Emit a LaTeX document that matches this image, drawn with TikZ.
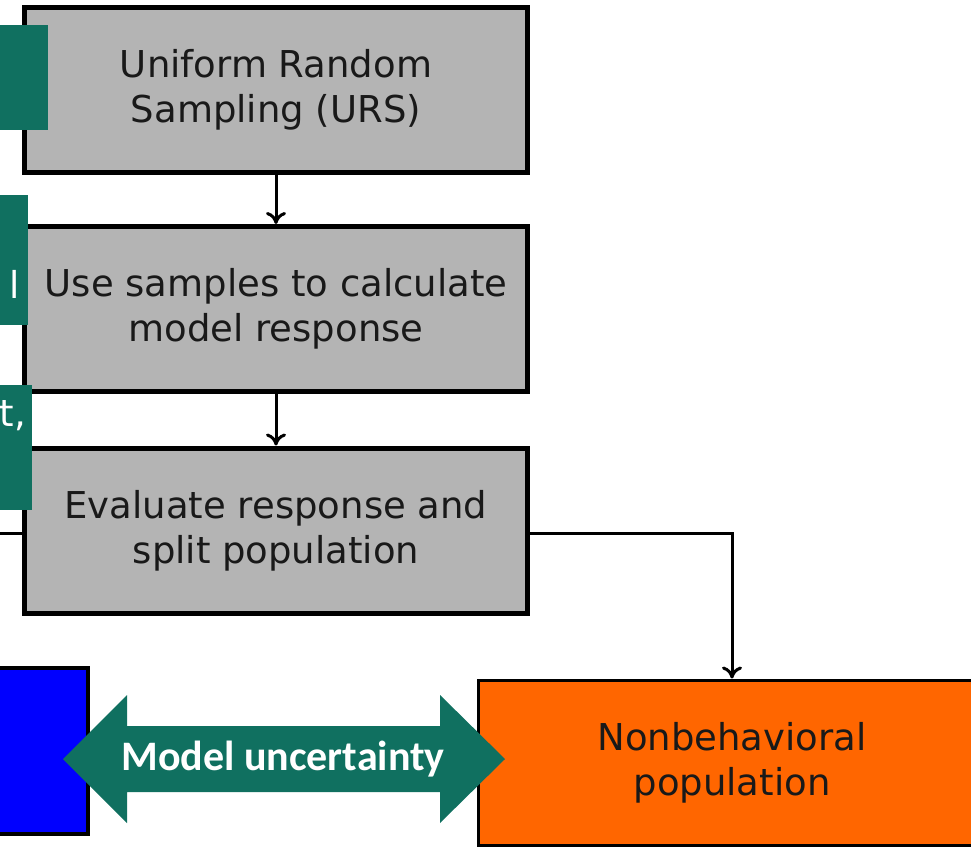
\documentclass[tikz,border=0pt]{standalone}
\usepackage{fontspec}
\setmainfont{DejaVu Sans}
\newfontfamily\calib{Carlito}
\usetikzlibrary{arrows.meta}
\definecolor{teal1}{RGB}{16,112,96}
\definecolor{grayfill}{RGB}{180,180,180}
\definecolor{orng}{RGB}{255,102,0}
\definecolor{txtdark}{RGB}{25,25,25}
\tikzset{
  procbox/.style={draw=black, line width=5pt, fill=grayfill, minimum width=503pt, minimum height=165pt, inner sep=0pt, align=center, text=txtdark, font=\fontsize{37}{45}\selectfont},
  tealbox/.style={fill=teal1, inner sep=0pt, text=white},
  flow/.style={line width=3pt, -{To[length=12pt,width=20pt]}},
  plainline/.style={line width=3pt}
}
\begin{document}
\begin{tikzpicture}[x=1pt,y=-1pt]
\useasboundingbox (0,0) rectangle (971,848);
\begin{scope}
\clip (0,0) rectangle (971,848);
% process boxes
\node[procbox] (urs) at (276,90) {Uniform Random\\Sampling (URS)};
\node[procbox] (use) at (276,309) {Use samples to calculate\\model response};
\node[procbox] (eval) at (276,530.5) {Evaluate response and\\split population};
% teal cut-off boxes
\node[tealbox, minimum width=60pt, minimum height=105pt] (t1) at (18,77.5) {};
\node[tealbox, minimum width=40pt, minimum height=130pt] (t2) at (8,260) {};
\node[tealbox, minimum width=44pt, minimum height=125pt] (t3) at (10,447.5) {};
\node[text=white, font=\fontsize{37}{45}\selectfont, anchor=base east, inner sep=0pt] (t2txt) at (20,298) {l};
\node[text=white, font=\fontsize{37}{45}\selectfont, anchor=base east, inner sep=0pt] (t3txt) at (26,426) {t,};
% bottom boxes
\node[draw=black, line width=4pt, fill=blue, minimum width=100pt, minimum height=166pt, inner sep=0pt] (beh) at (38,751) {};
\node[draw=black, line width=3pt, fill=orng, minimum width=508pt, minimum height=165pt, inner sep=0pt, align=center, text=txtdark, font=\fontsize{37}{45}\selectfont] (nonbeh) at (732,762.5) {Nonbehavioral\\population};
% connectors
\coordinate (lstart) at (0,533);
\draw[flow] (urs) -- (use);
\draw[flow] (use) -- (eval);
\draw[plainline] (lstart) -- (eval.west |- lstart);
\draw[flow] (eval.east |- 0,533) -| (nonbeh.north);
% double arrow
\fill[teal1] (63,759) -- (127,695) -- (127,726) -- (440,726) -- (440,695) -- (505,759) -- (440,823) -- (440,792) -- (127,792) -- (127,823) -- cycle;
\node[text=white, font=\calib\bfseries\fontsize{42}{46}\selectfont, inner sep=0pt] (mu) at (283,759) {Model uncertainty};
\end{scope}
\end{tikzpicture}
\end{document}
